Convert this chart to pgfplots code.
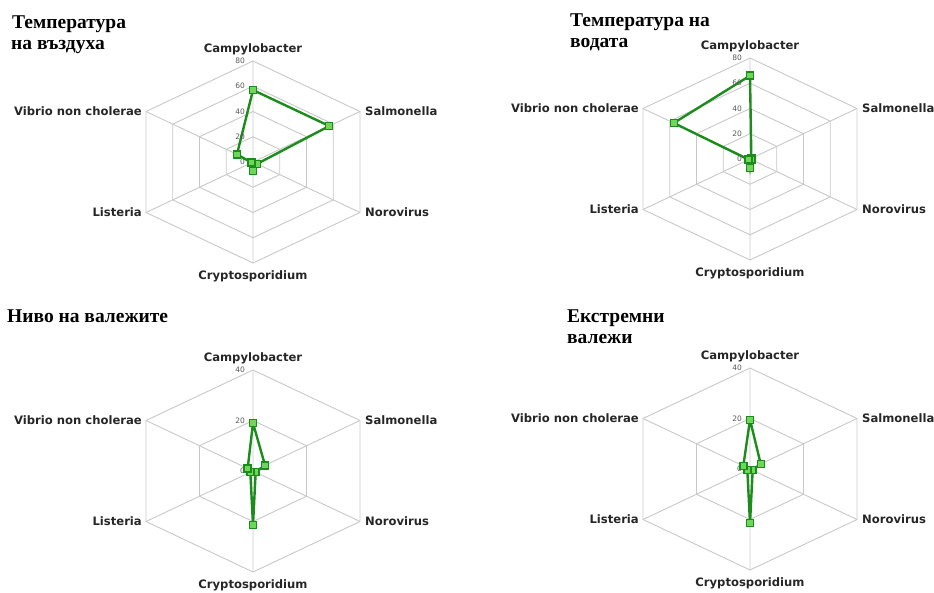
\documentclass[border=0pt]{standalone}
\usepackage{fontspec}
\usepackage{pgfplots}
\pgfplotsset{compat=1.18}
\setmainfont{DejaVu Sans}
\newfontfamily\titleserif{Liberation Serif}

\definecolor{gridgray}{RGB}{200,200,200}
\definecolor{linegreen}{RGB}{28,140,28}
\definecolor{markfill}{RGB}{110,215,90}

\pgfplotsset{
  radar/.style={
    scale only axis, width=214pt, height=202pt,
    axis lines=none, clip=false, anchor=center,
  },
  gridline/.style={data cs=polar, no marks, draw=gridgray, line width=0.9pt},
  series/.style={data cs=polar, linegreen, line width=2.4pt, mark=square*,
    mark size=3.5pt, mark options={fill=markfill, draw=linegreen, line width=1.4pt}},
}
\tikzset{
  lab/.style={font=\fontsize{11.6}{13}\selectfont\bfseries, inner sep=0pt, text=black!85},
  tl/.style={font=\fontsize{7.5}{8}\selectfont, inner sep=0pt, text=black!65, anchor=east, xshift=-8pt},
  ttl/.style={font=\titleserif\bfseries\fontsize{19.5}{21}\selectfont, inner sep=0pt, anchor=base west},
}

\begin{document}
\begin{tikzpicture}
\path[use as bounding box] (0,0) rectangle (934pt,592pt);

% titles
\node[ttl] at (12pt,563pt) {Температура};
\node[ttl] at (11pt,542pt) {на въздуха};
\node[ttl] at (570pt,565pt) {Температура на};
\node[ttl] at (570pt,544pt) {водата};
\node[ttl] at (7pt,269pt) {Ниво на валежите};
\node[ttl] at (567pt,269pt) {Екстремни};
\node[ttl] at (567pt,248pt) {валежи};

% air temperature
\begin{axis}[radar, at={(253pt,430pt)}, xmin=-69.28, xmax=69.28, ymin=-80, ymax=80]
\addplot[gridline] coordinates {(90,20) (30,20) (-30,20) (-90,20) (-150,20) (150,20) (90,20)};
\addplot[gridline] coordinates {(90,40) (30,40) (-30,40) (-90,40) (-150,40) (150,40) (90,40)};
\addplot[gridline] coordinates {(90,60) (30,60) (-30,60) (-90,60) (-150,60) (150,60) (90,60)};
\addplot[gridline] coordinates {(90,80) (30,80) (-30,80) (-90,80) (-150,80) (150,80) (90,80)};
\addplot[gridline] coordinates {(90,80) (90,0) (30,80) (30,0) (-30,80) (-30,0) (-90,80) (-90,0) (-150,80) (-150,0) (150,80)};
\addplot[series] coordinates {(90,57) (30,57) (-30,3) (-90,7) (-150,1) (150,12) (90,57)};
\node[tl] at (axis cs:0,80) {80};
\node[tl] at (axis cs:0,60) {60};
\node[tl] at (axis cs:0,40) {40};
\node[tl] at (axis cs:0,20) {20};
\node[tl] at (axis cs:0,0) {0};
\node[lab, anchor=base, yshift=8.5pt] at (axis cs:0,80) {Campylobacter};
\node[lab, anchor=west, xshift=5pt] at (axis cs:69.28,40) {Salmonella};
\node[lab, anchor=west, xshift=5pt] at (axis cs:69.28,-40) {Norovirus};
\node[lab, anchor=north, yshift=-7pt] at (axis cs:0,-80) {Cryptosporidium};
\node[lab, anchor=east, xshift=-4pt] at (axis cs:-69.28,-40) {Listeria};
\node[lab, anchor=east, xshift=-4pt] at (axis cs:-69.28,40) {Vibrio non cholerae};
\end{axis}

% water temperature
\begin{axis}[radar, at={(750pt,433pt)}, xmin=-69.28, xmax=69.28, ymin=-80, ymax=80]
\addplot[gridline] coordinates {(90,20) (30,20) (-30,20) (-90,20) (-150,20) (150,20) (90,20)};
\addplot[gridline] coordinates {(90,40) (30,40) (-30,40) (-90,40) (-150,40) (150,40) (90,40)};
\addplot[gridline] coordinates {(90,60) (30,60) (-30,60) (-90,60) (-150,60) (150,60) (90,60)};
\addplot[gridline] coordinates {(90,80) (30,80) (-30,80) (-90,80) (-150,80) (150,80) (90,80)};
\addplot[gridline] coordinates {(90,80) (90,0) (30,80) (30,0) (-30,80) (-30,0) (-90,80) (-90,0) (-150,80) (-150,0) (150,80)};
\addplot[series] coordinates {(90,66) (30,1) (-30,1) (-90,7) (-150,1) (150,57) (90,66)};
\node[tl] at (axis cs:0,80) {80};
\node[tl] at (axis cs:0,60) {60};
\node[tl] at (axis cs:0,40) {40};
\node[tl] at (axis cs:0,20) {20};
\node[tl] at (axis cs:0,0) {0};
\node[lab, anchor=base, yshift=8.5pt] at (axis cs:0,80) {Campylobacter};
\node[lab, anchor=west, xshift=5pt] at (axis cs:69.28,40) {Salmonella};
\node[lab, anchor=west, xshift=5pt] at (axis cs:69.28,-40) {Norovirus};
\node[lab, anchor=north, yshift=-7pt] at (axis cs:0,-80) {Cryptosporidium};
\node[lab, anchor=east, xshift=-4pt] at (axis cs:-69.28,-40) {Listeria};
\node[lab, anchor=east, xshift=-4pt] at (axis cs:-69.28,40) {Vibrio non cholerae};
\end{axis}

% precipitation level
\begin{axis}[radar, at={(253pt,121pt)}, xmin=-34.64, xmax=34.64, ymin=-40, ymax=40]
\addplot[gridline] coordinates {(90,20) (30,20) (-30,20) (-90,20) (-150,20) (150,20) (90,20)};
\addplot[gridline] coordinates {(90,40) (30,40) (-30,40) (-90,40) (-150,40) (150,40) (90,40)};
\addplot[gridline] coordinates {(90,40) (90,0) (30,40) (30,0) (-30,40) (-30,0) (-90,40) (-90,0) (-150,40) (-150,0) (150,40)};
\addplot[series] coordinates {(90,19) (30,4.5) (-30,1) (-90,21.5) (-150,1) (150,2) (90,19)};
\node[tl] at (axis cs:0,40) {40};
\node[tl] at (axis cs:0,20) {20};
\node[tl] at (axis cs:0,0) {0};
\node[lab, anchor=base, yshift=8.5pt] at (axis cs:0,40) {Campylobacter};
\node[lab, anchor=west, xshift=5pt] at (axis cs:34.64,20) {Salmonella};
\node[lab, anchor=west, xshift=5pt] at (axis cs:34.64,-20) {Norovirus};
\node[lab, anchor=north, yshift=-7pt] at (axis cs:0,-40) {Cryptosporidium};
\node[lab, anchor=east, xshift=-4pt] at (axis cs:-34.64,-20) {Listeria};
\node[lab, anchor=east, xshift=-4pt] at (axis cs:-34.64,20) {Vibrio non cholerae};
\end{axis}

% extreme precipitation
\begin{axis}[radar, at={(750pt,123pt)}, xmin=-34.64, xmax=34.64, ymin=-40, ymax=40]
\addplot[gridline] coordinates {(90,20) (30,20) (-30,20) (-90,20) (-150,20) (150,20) (90,20)};
\addplot[gridline] coordinates {(90,40) (30,40) (-30,40) (-90,40) (-150,40) (150,40) (90,40)};
\addplot[gridline] coordinates {(90,40) (90,0) (30,40) (30,0) (-30,40) (-30,0) (-90,40) (-90,0) (-150,40) (-150,0) (150,40)};
\addplot[series] coordinates {(90,19.5) (30,4) (-30,1) (-90,21.5) (-150,1) (150,2.5) (90,19.5)};
\node[tl] at (axis cs:0,40) {40};
\node[tl] at (axis cs:0,20) {20};
\node[tl] at (axis cs:0,0) {0};
\node[lab, anchor=base, yshift=8.5pt] at (axis cs:0,40) {Campylobacter};
\node[lab, anchor=west, xshift=5pt] at (axis cs:34.64,20) {Salmonella};
\node[lab, anchor=west, xshift=5pt] at (axis cs:34.64,-20) {Norovirus};
\node[lab, anchor=north, yshift=-7pt] at (axis cs:0,-40) {Cryptosporidium};
\node[lab, anchor=east, xshift=-4pt] at (axis cs:-34.64,-20) {Listeria};
\node[lab, anchor=east, xshift=-4pt] at (axis cs:-34.64,20) {Vibrio non cholerae};
\end{axis}
\end{tikzpicture}
\end{document}
